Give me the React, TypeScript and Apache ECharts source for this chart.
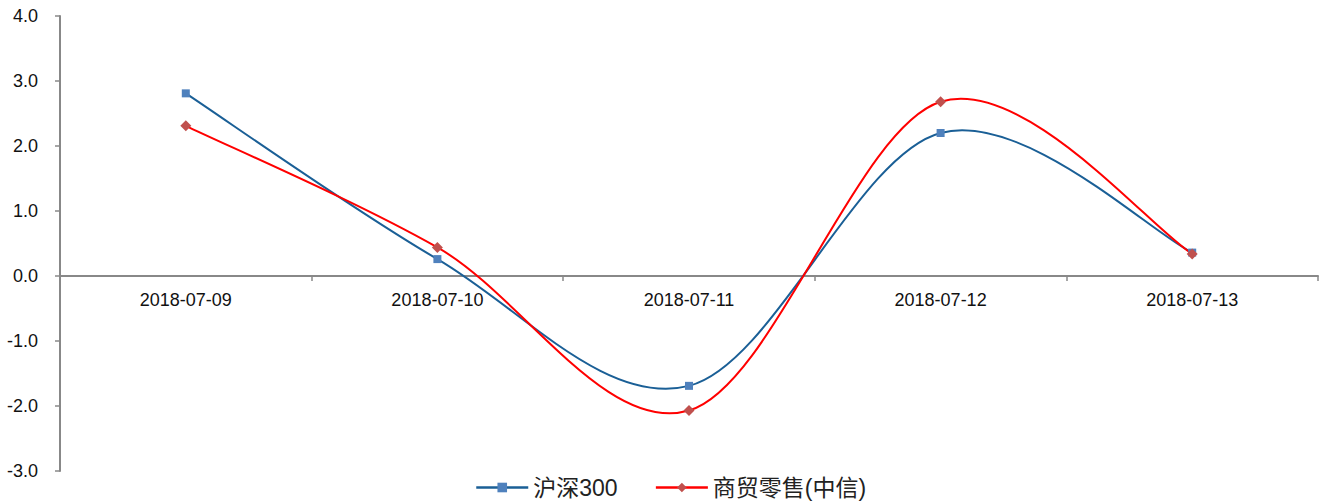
import React, { useEffect, useRef } from "react";
import * as echarts from "echarts";

const categories = ["2018-07-09", "2018-07-10", "2018-07-11", "2018-07-12", "2018-07-13"];
const hs300 = [2.81, 0.26, -1.69, 2.2, 0.36];
const retail = [2.31, 0.44, -2.07, 2.68, 0.34];
const yTicks = { min: -3, max: 4, interval: 1 };

const BLUE_LINE = "#1A5F96";
const RED_LINE = "#FF0000";

function curveSeries(name: string, values: number[], color: string) {
  return {
    name,
    type: "custom",
    data: values.map((v, i) => [i, v]),
    encode: { x: 0, y: 1 },
    z: 2,
    silent: true,
    renderItem: (params: any, api: any) => {
      const i = params.dataIndex;
      if (i >= values.length - 1) return { type: "group", children: [] };
      const pts = values.map((v, k) => api.coord([k, v]));
      const p0 = pts[i - 1] || pts[i];
      const p1 = pts[i];
      const p2 = pts[i + 1];
      const p3 = pts[i + 2] || pts[i + 1];
      return {
        type: "bezierCurve",
        shape: {
          x1: p1[0],
          y1: p1[1],
          cpx1: p1[0] + (p2[0] - p0[0]) / 6,
          cpy1: p1[1] + (p2[1] - p0[1]) / 6,
          cpx2: p2[0] - (p3[0] - p1[0]) / 6,
          cpy2: p2[1] - (p3[1] - p1[1]) / 6,
          x2: p2[0],
          y2: p2[1],
        },
        style: { stroke: color, lineWidth: 2, fill: "none", lineCap: "round" },
      };
    },
  };
}

export default function App() {
  const ref = useRef<HTMLDivElement>(null);
  useEffect(() => {
    document.body.style.margin = "0";
    document.body.style.overflow = "hidden";
    const chart = echarts.init(ref.current!, undefined, { renderer: "svg" });
    chart.setOption({
      animation: false,
      textStyle: { fontFamily: "Liberation Sans, Arial, sans-serif" },
      grid: { left: 60, right: 15, top: 16, bottom: 33, containLabel: false },
      legend: {
        top: 471,
        left: 470,
        itemWidth: 52,
        itemHeight: 12,
        itemGap: 37,
        textStyle: { fontSize: 23, color: "#222", fontFamily: "Liberation Sans, Noto Sans CJK SC, sans-serif" },
        data: [
          { name: "沪深300", lineStyle: { color: BLUE_LINE, width: 2.5, opacity: 1 } },
          { name: "商贸零售(中信)", lineStyle: { color: RED_LINE, width: 2.5, opacity: 1 } },
        ],
      },
      xAxis: {
        type: "category",
        data: categories,
        boundaryGap: true,
        axisLine: { onZero: true, lineStyle: { color: "#888", width: 2 } },
        axisTick: { show: true, length: 5, inside: false, lineStyle: { color: "#888", width: 1.5 } },
        axisLabel: { fontSize: 18, color: "#111", margin: -180 },
        splitLine: { show: false },
      },
      yAxis: {
        type: "value",
        min: yTicks.min,
        max: yTicks.max,
        interval: yTicks.interval,
        axisLine: { show: true, lineStyle: { color: "#888", width: 2 } },
        axisTick: { show: true, length: 5, lineStyle: { color: "#888", width: 1.5 } },
        axisLabel: { fontSize: 18, color: "#111", margin: 22, formatter: (v: number) => v.toFixed(1) },
        splitLine: { show: false },
      },
      series: [
        curveSeries("沪深300-curve", hs300, BLUE_LINE),
        curveSeries("商贸零售-curve", retail, RED_LINE),
        {
          name: "沪深300",
          type: "line",
          data: hs300,
          z: 3,
          symbol: "rect",
          symbolSize: 8,
          lineStyle: { color: BLUE_LINE, width: 2, opacity: 0 },
          itemStyle: { color: "#4F81BD" },
        },
        {
          name: "商贸零售(中信)",
          type: "line",
          data: retail,
          z: 3,
          symbol: "diamond",
          symbolSize: 11,
          lineStyle: { color: RED_LINE, width: 2, opacity: 0 },
          itemStyle: { color: "#C0504D" },
        },
      ],
    });
    return () => chart.dispose();
  }, []);
  return <div ref={ref} style={{ width: 1333, height: 504 }} />;
}
